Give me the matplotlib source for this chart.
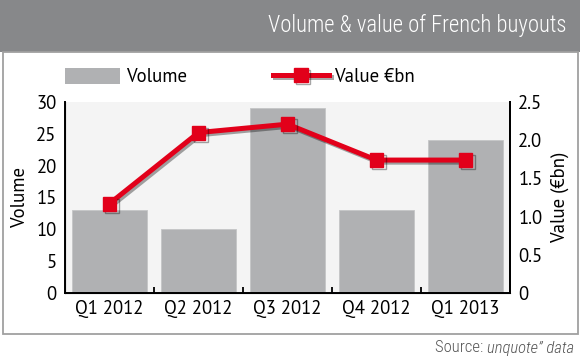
import matplotlib
matplotlib.use("Agg")
import matplotlib.pyplot as plt
import matplotlib.patheffects as pe
from matplotlib.patches import Rectangle, Patch
from matplotlib.lines import Line2D
import numpy as np

categories = ["Q1 2012", "Q2 2012", "Q3 2012", "Q4 2012", "Q1 2013"]
volume = [13, 10, 29, 13, 24]
value_bn = [1.17, 2.10, 2.21, 1.74, 1.74]
left_ticks = [0, 5, 10, 15, 20, 25, 30]
right_ticks = [0, 0.5, 1.0, 1.5, 2.0, 2.5]
right_labels = ["0", "0.5", "1.0", "1.5", "2.0", "2.5"]

BAR = "#b0b1b3"
RED = "#e2001a"
HEAD = "#87888a"
COND = ["Roboto Condensed", "DejaVu Sans"]

plt.rcParams['font.family'] = ['PT Sans', 'DejaVu Sans']
FS = 13.5

W, H = 580, 358
fig = plt.figure(figsize=(W / 100, H / 100), dpi=100)

def fx(px):
    return px / W

def fy(py):
    return 1 - py / H

# header band
fig.patches.append(Rectangle((0, fy(52)), 1, 52 / H, transform=fig.transFigure,
                             facecolor=HEAD, edgecolor="none", zorder=-5))
# body border
fig.patches.append(Rectangle((fx(2.5), fy(334)), fx(575), (334 - 52) / H,
                             transform=fig.transFigure, facecolor="none",
                             edgecolor="#a0a0a0", lw=1.3, zorder=-5))

title = fig.text(fx(566), fy(25), "Volume & value of French buyouts", color="white",
                 fontsize=16, ha="right", va="center", family=COND, fontweight="light")
fig.canvas.draw()
tw = title.get_window_extent().width
title.set_fontsize(16 * 298 / tw)

t2 = fig.text(fx(574), fy(348), "unquote\u201d data", color="#555555", fontsize=12,
              ha="right", va="center", family=COND, style="italic", fontweight="light")
fig.canvas.draw()
bb = t2.get_window_extent()
fig.text(bb.x0 / W, fy(348), "Source: ", color="#555555", fontsize=12,
         ha="right", va="center", family=COND, fontweight="light")

ax = fig.add_axes([fx(65), fy(293), fx(510 - 65), (293 - 102) / H])
ax.set_facecolor("#f4f4f4")
x = np.arange(len(categories))
ax.bar(x, volume, width=0.85, color=BAR, edgecolor="#c4c5c7", lw=0.6, zorder=2)
ax.set_xlim(-0.5, len(categories) - 0.5)
ax.set_ylim(0, 30)
ax.set_yticks(left_ticks)
ax.set_xticks(x)
ax.set_xticklabels(categories)
ax.set_xticks(np.arange(0.5, len(categories) - 0.5, 1), minor=True)
ax.tick_params(axis="x", which="major", length=0, labelsize=FS, pad=5)
ax.tick_params(axis="x", which="minor", length=4, width=1.3, direction="in")
ax.tick_params(axis="y", length=0, labelsize=FS, pad=6)
ax.set_ylabel("Volume", fontsize=FS, labelpad=5)
ax.spines["top"].set_visible(False)
for s in ["left", "bottom", "right"]:
    ax.spines[s].set_linewidth(1.4)

ax2 = ax.twinx()
ax2.set_ylim(0, 2.5)
ax2.set_yticks(right_ticks)
ax2.set_yticklabels(right_labels)
ax2.tick_params(axis="y", length=0, labelsize=FS, pad=6)
ax2.set_ylabel("Value (€bn)", fontsize=FS, labelpad=6)
ax2.spines["top"].set_visible(False)
ax2.spines["right"].set_linewidth(1.4)
shadow = [pe.SimpleLineShadow(offset=(1.5, -1.5), shadow_color="black", alpha=0.35), pe.Normal()]
ax2.plot(x, value_bn, color=RED, lw=3.6, marker="s", markersize=10,
         markerfacecolor=RED, markeredgecolor=RED, zorder=3, path_effects=shadow)

handles = [Patch(facecolor=BAR, edgecolor="none"),
           Line2D([0], [0], color=RED, lw=3.6, marker="s", markersize=10, path_effects=shadow)]
fig.legend(handles, ["Volume", "Value €bn"], ncol=2, loc="center left",
           bbox_to_anchor=(fx(65), fy(77)), frameon=False, fontsize=FS,
           handlelength=2.95, handleheight=1.0, handletextpad=0.3,
           columnspacing=4.6, borderpad=0, borderaxespad=0)

fig.savefig("out.png", dpi=100)
